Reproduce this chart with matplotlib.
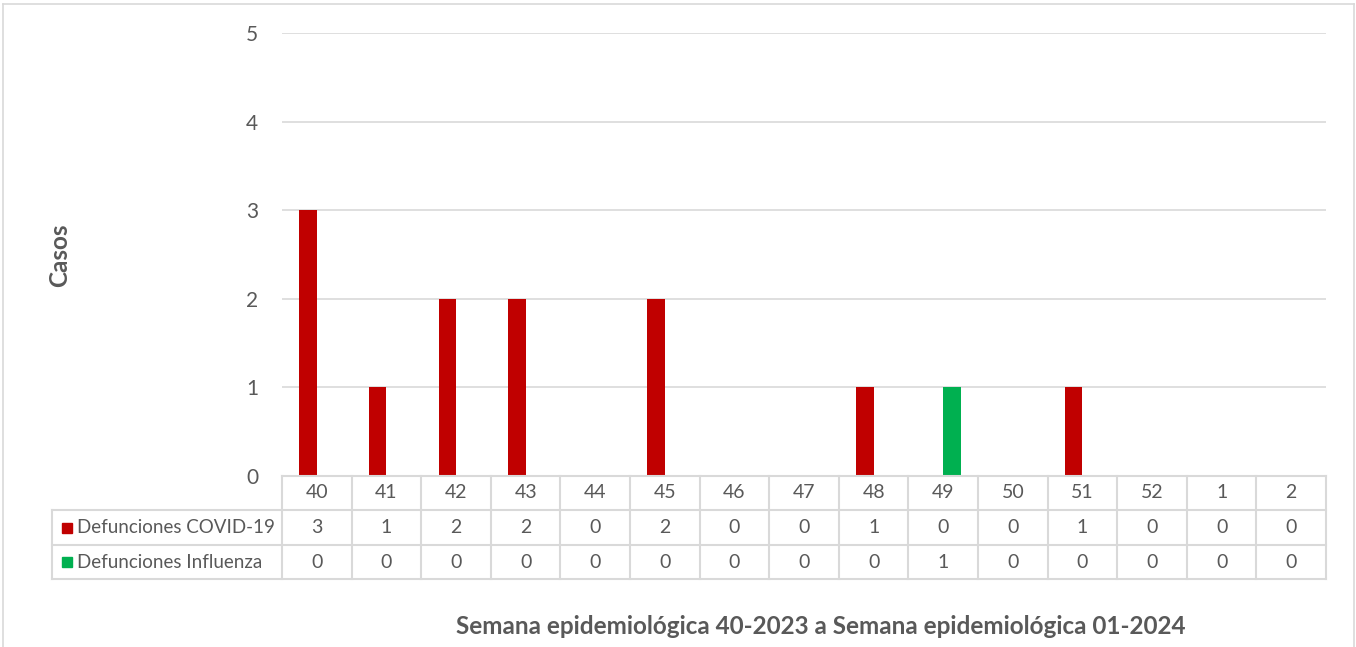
import matplotlib
matplotlib.use("Agg")
import matplotlib.pyplot as plt
import matplotlib.transforms as mtransforms
from matplotlib.lines import Line2D
from matplotlib.patches import Rectangle

weeks = ["40", "41", "42", "43", "44", "45", "46", "47", "48", "49", "50", "51", "52", "1", "2"]
covid = [3, 1, 2, 2, 0, 2, 0, 0, 1, 0, 0, 1, 0, 0, 0]
influenza = [0, 0, 0, 0, 0, 0, 0, 0, 0, 1, 0, 0, 0, 0, 0]
series_names = ["Defunciones COVID-19", "Defunciones Influenza"]
series_colors = ["#C00000", "#00B050"]
yticks = [0, 1, 2, 3, 4, 5]
ylabel = "Casos"
xlabel = "Semana epidemiológica 40-2023 a Semana epidemiológica 01-2024"

W, H = 1356, 647
plt.rcParams['font.family'] = ['Lato', 'DejaVu Sans']
TXT = "#595959"
GRID = "#D9D9D9"

fig = plt.figure(figsize=(W / 100, H / 100), dpi=100)

def fy(py):
    return 1 - py / H

def fx(px):
    return px / W

# outer chart frame
fig.add_artist(Line2D([fx(3), fx(1354)], [fy(4), fy(4)], color=GRID, lw=1.2))
fig.add_artist(Line2D([fx(3), fx(3)], [fy(4), 0], color=GRID, lw=1.2))
fig.add_artist(Line2D([fx(1354), fx(1354)], [fy(4), 0], color=GRID, lw=1.2))

left, right, top, bottom = 282, 1326, 33, 476
ax = fig.add_axes([fx(left), fy(bottom), fx(right) - fx(left), fy(top) - fy(bottom)])
n = len(weeks)
x = list(range(n))
bw = 0.25
ax.bar([i - bw / 2 for i in x], covid, width=bw, color=series_colors[0], zorder=3)
ax.bar([i + bw / 2 for i in x], influenza, width=bw, color=series_colors[1], zorder=3)
ax.set_xlim(-0.5, n - 0.5)
ax.set_ylim(0, 5)
ax.set_yticks(yticks)
ax.set_yticklabels([str(t) for t in yticks], fontsize=15, color=TXT)
ax.tick_params(axis='y', length=0, pad=17)
ax.set_xticks([])
for s in ax.spines.values():
    s.set_visible(False)
ax.grid(axis='y', color=GRID, lw=1.2, zorder=0)
ax.set_axisbelow(True)

# data table
trans = mtransforms.blended_transform_factory(ax.transData, fig.transFigure)
row_edges = [476, 510, 545, 579]
label_left = 52
fig.add_artist(Line2D([-0.5, n - 0.5], [fy(row_edges[0])] * 2, color=GRID, lw=1.5, transform=trans))
for ry in row_edges[1:]:
    fig.add_artist(Line2D([fx(label_left), fx(right)], [fy(ry)] * 2, color=GRID, lw=1.5))
for i in range(n + 1):
    fig.add_artist(Line2D([i - 0.5, i - 0.5], [fy(row_edges[0]), fy(row_edges[-1])],
                          color=GRID, lw=1.5, transform=trans))
fig.add_artist(Line2D([fx(label_left)] * 2, [fy(row_edges[1]), fy(row_edges[-1])], color=GRID, lw=1.5))

def row_mid(r):
    return fy((row_edges[r] + row_edges[r + 1]) / 2)

for i, w in enumerate(weeks):
    fig.text(i, row_mid(0), w, ha='center', va='center', fontsize=14, color=TXT, transform=trans)
    fig.text(i, row_mid(1), str(covid[i]), ha='center', va='center', fontsize=14, color=TXT, transform=trans)
    fig.text(i, row_mid(2), str(influenza[i]), ha='center', va='center', fontsize=14, color=TXT, transform=trans)

for r, (name, col) in enumerate(zip(series_names, series_colors)):
    ym = (row_edges[r + 1] + row_edges[r + 2]) / 2
    fig.add_artist(Rectangle((fx(62), fy(ym + 5)), fx(10), fy(ym - 5) - fy(ym + 5), color=col))
    fig.text(fx(77), fy(ym), name, ha='left', va='center', fontsize=13.5, color=TXT)

fig.text(fx(60), fy(255), ylabel, rotation=90, ha='center', va='center',
         fontsize=17.5, fontweight='bold', color=TXT)
fig.text(fx(821), fy(627), xlabel, ha='center', va='center',
         fontsize=17.5, fontweight='bold', color=TXT)

fig.savefig("out.png", dpi=100, facecolor='white')
